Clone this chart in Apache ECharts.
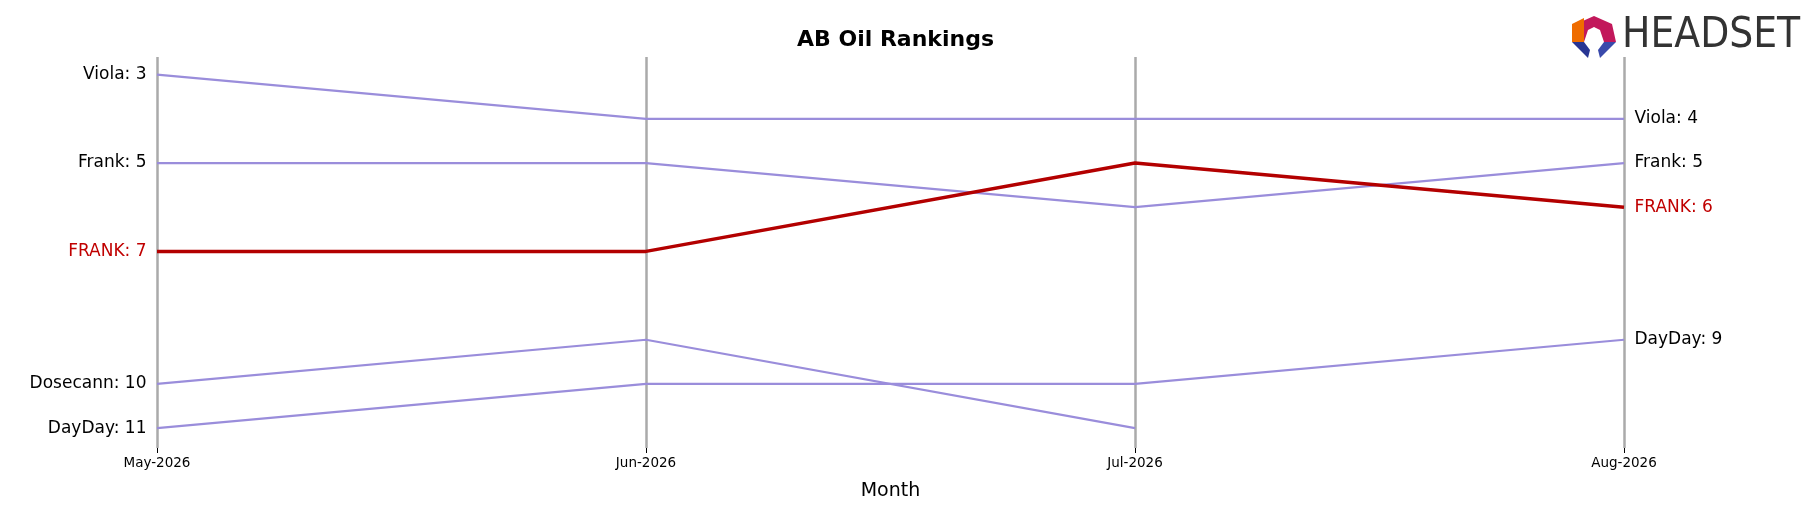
<!DOCTYPE html>
<html><head><meta charset="utf-8">
<script src="https://cdn.jsdelivr.net/npm/echarts@6/dist/echarts.min.js"></script>
<style>html,body{margin:0;padding:0;background:#fff}#c{width:1809px;height:506px}</style>
</head><body><div id="c"></div>
<script>
const months = ['May-2026','Jun-2026','Jul-2026','Aug-2026'];
const brandNames = ['Viola','Frank','FRANK','Dosecann','DayDay'];
const viola = [3,4,4,4];
const frank = [5,5,6,5];
const frankCaps = [7,7,5,6];
const dosecann = [10,9,11,null];
const dayday = [11,10,10,9];
const highlight = 'FRANK';
const allSeries = [viola, frank, frankCaps, dosecann, dayday];

function mk(name, vals){
  const hi = name === highlight;
  const color = hi ? '#b30000' : '#9a8ddb';
  let last = -1; vals.forEach((v,i)=>{ if(v!==null) last=i; });
  const data = vals.map((v,i)=>{
    if(v===null) return null;
    let label = {show:false};
    if(i===0) label = {show:true, position:'left', distance:10, formatter:name+': '+v};
    else if(i===last && i===months.length-1) label = {show:true, position:'right', distance:10, formatter:name+': '+v};
    return {value:v, label};
  });
  return {type:'line', name, data, symbol:'circle', symbolSize:1, showAllSymbol:true, z: hi?5:3,
    itemStyle:{color:'rgba(0,0,0,0)', borderWidth:0},
    lineStyle:{color, width: hi?3.5:2.2},
    label:{color: hi?'#c00000':'#000', fontSize:17, fontFamily:'DejaVu Sans'},
    labelLayout:{hideOverlap:false},
    emphasis:{disabled:true}};
}
const chart = echarts.init(document.getElementById('c'));
chart.setOption({
  animation:false,
  title:{text:'AB Oil Rankings', left:792, top:24, textStyle:{fontSize:22, fontWeight:'bold', fontFamily:'DejaVu Sans', color:'#000'}},
  grid:{left:157, right:185, top:57, bottom:50},
  xAxis:{type:'category', data:months, boundaryGap:false, name:'Month', nameLocation:'middle', nameGap:34,
    nameTextStyle:{fontSize:19, fontFamily:'DejaVu Sans', color:'#000'},
    axisLine:{show:false}, axisTick:{show:true, length:5, lineStyle:{color:'#000'}},
    axisLabel:{fontSize:13.5, fontFamily:'DejaVu Sans', color:'#000', margin:8},
    splitLine:{show:true, lineStyle:{color:'#aaa', width:2.5}}},
  yAxis:{type:'value', inverse:true, min:2.6, max:11.45, show:false},
  series: brandNames.map((n,i)=>mk(n, allSeries[i])),
  graphic:[
    {type:'polygon', shape:{points:[[1576,24],[1594,16],[1612,24],[1616,42],[1604,42],[1600,30],[1594,27],[1588,30],[1584,42],[1572,42]]}, style:{fill:'#c2185b'}},
    {type:'polygon', shape:{points:[[1572,24],[1584,18],[1584,42],[1572,42]]}, style:{fill:'#ef6c00'}},
    {type:'polygon', shape:{points:[[1572,42],[1584,42],[1590,50],[1588,58]]}, style:{fill:'#283593'}},
    {type:'polygon', shape:{points:[[1616,42],[1604,42],[1598,50],[1600,58]]}, style:{fill:'#3949ab'}},
    {type:'text', left:1622, top:15, style:{text:'HEADSET', fontSize:42, fontFamily:'DejaVu Sans Condensed', fill:'#333', fontWeight:'normal'}}
  ]
});
</script></body></html>
